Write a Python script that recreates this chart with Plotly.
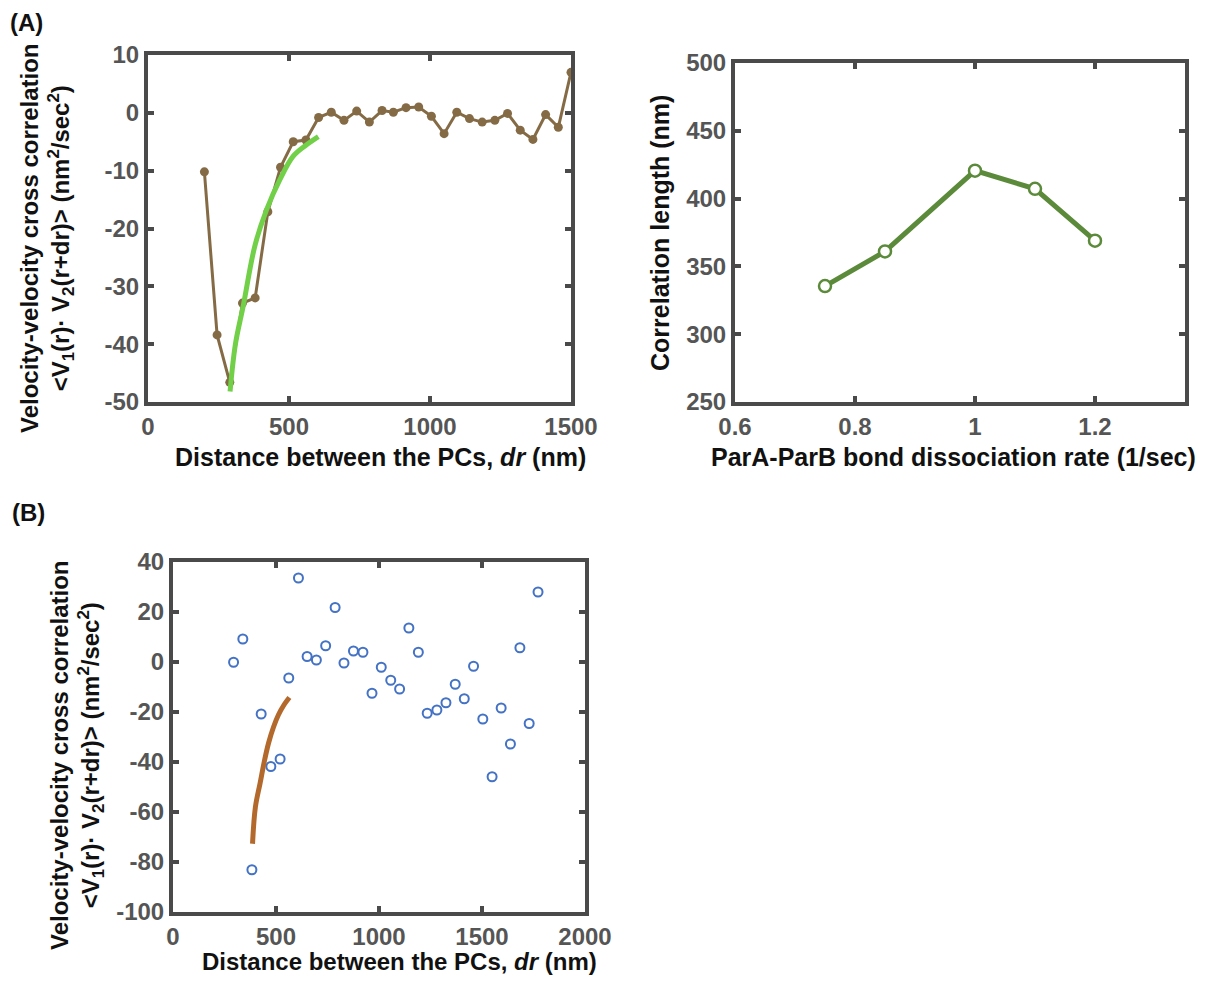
import plotly.graph_objects as go

# ---- Panel A (left): velocity-velocity cross correlation ----
a_dr = [200, 245, 290, 335, 380, 425, 470, 515, 560, 605, 650, 695, 740, 785, 830,
        870, 915, 960, 1005, 1050, 1095, 1140, 1185, 1230, 1275, 1320, 1365, 1410, 1455, 1500]
a_corr = [-10.2, -38.4, -46.6, -32.9, -32.0, -17.1, -9.4, -5.0, -4.7, -0.8, 0.1, -1.3, 0.3, -1.6, 0.4,
          0.1, 0.9, 1.0, -0.6, -3.6, 0.1, -1.0, -1.6, -1.3, -0.1, -3.0, -4.6, -0.3, -2.5, 7.0]
a_fit_dr = [291, 310, 338, 379, 421, 468, 515, 560, 604]
a_fit_corr = [-48.2, -40.0, -33.3, -23.0, -16.7, -11.5, -7.5, -5.6, -4.1]
a_xticks = [0, 500, 1000, 1500]
a_yticks = [-50, -40, -30, -20, -10, 0, 10]

# ---- Panel A (right): correlation length vs dissociation rate ----
rate = [0.75, 0.85, 1.0, 1.1, 1.2]
corr_len = [335.5, 361, 420.6, 407.2, 369]
r_xticks = [0.6, 0.8, 1.0, 1.2]
r_xlabels = ["0.6", "0.8", "1", "1.2"]
r_yticks = [250, 300, 350, 400, 450, 500]

# ---- Panel B: scatter ----
b_dr = [294, 339, 383, 428, 475, 520, 562, 609, 651, 696, 741, 787, 830, 876, 922, 966, 1011,
        1057, 1100, 1145, 1191, 1234, 1281, 1325, 1370, 1414, 1459, 1504, 1549, 1593, 1638,
        1684, 1729, 1772]
b_corr = [-0.1, 9.2, -83.1, -20.8, -41.8, -38.8, -6.4, 33.6, 2.2, 0.8, 6.5, 21.8, -0.4, 4.4, 3.9,
          -12.5, -2.1, -7.3, -10.8, 13.6, 3.9, -20.5, -19.2, -16.3, -8.9, -14.7, -1.7, -22.8,
          -45.9, -18.4, -32.8, 5.7, -24.6, 28.0]
b_fit_dr = [386, 400, 423, 444, 464, 488, 512, 540, 565]
b_fit_corr = [-72.7, -58.0, -48.4, -39.5, -32.4, -26.0, -21.1, -17.0, -14.2]
b_xticks = [0, 500, 1000, 1500, 2000]
b_yticks = [-100, -80, -60, -40, -20, 0, 20, 40]

# page offset (default body margin) compensation
OFF = 8
W, H = 1215 - 2 * OFF, 985 - 2 * OFF
FONT = "Liberation Sans, Arial, Helvetica, sans-serif"
FRAME = "#4a4a4a"
TICKC = "#555555"

def px(x):
    return (x - OFF) / W

def py(y):
    return 1 - (y - OFF) / H

fig = go.Figure()

fig.add_trace(go.Scatter(x=a_dr, y=a_corr, mode="lines+markers",
                         line=dict(color="#846b45", width=3),
                         marker=dict(color="#846b45", size=9),
                         xaxis="x", yaxis="y", showlegend=False))
fig.add_trace(go.Scatter(x=a_fit_dr, y=a_fit_corr, mode="lines",
                         line=dict(color="#72cf48", width=5, shape="spline"),
                         xaxis="x", yaxis="y", showlegend=False))

fig.add_trace(go.Scatter(x=rate, y=corr_len, mode="lines+markers",
                         line=dict(color="#5b8b3a", width=5),
                         marker=dict(color="white", size=12, line=dict(color="#5b8b3a", width=2.5)),
                         xaxis="x2", yaxis="y2", showlegend=False))

fig.add_trace(go.Scatter(x=b_dr, y=b_corr, mode="markers",
                         marker=dict(color="rgba(0,0,0,0)", size=9, line=dict(color="#4472c4", width=2)),
                         xaxis="x3", yaxis="y3", showlegend=False))
fig.add_trace(go.Scatter(x=b_fit_dr, y=b_fit_corr, mode="lines",
                         line=dict(color="#b3692c", width=5, shape="spline"),
                         xaxis="x3", yaxis="y3", showlegend=False))

def fmt(v):
    return "%g" % v

def axis(domain, rng, vals, anchor, labels=None):
    return dict(domain=domain, range=rng, anchor=anchor, automargin=False,
                tickmode="array", tickvals=vals,
                ticktext=labels if labels is not None else [fmt(v) for v in vals],
                showline=True, linewidth=4, linecolor=FRAME, mirror="allticks",
                ticks="inside", ticklen=6, tickwidth=4, tickcolor=FRAME,
                showgrid=False, zeroline=False,
                tickfont=dict(family=FONT, size=24, color=TICKC, weight="bold"))

fig.update_layout(
    width=W, height=H, paper_bgcolor="white", plot_bgcolor="white",
    margin=dict(l=0, r=0, t=0, b=0),
    xaxis=axis([px(148), px(571)], [0, 1500], a_xticks, "y"),
    yaxis=axis([py(402), py(55)], [-50, 10], a_yticks, "x"),
    xaxis2=axis([px(735), px(1185)], [0.6, 1.35], r_xticks, "y2", r_xlabels),
    yaxis2=axis([py(402), py(63)], [250, 500], r_yticks, "x2"),
    xaxis3=axis([px(173), px(585)], [0, 2000], b_xticks, "y3"),
    yaxis3=axis([py(912), py(562)], [-100, 40], b_yticks, "x3"),
)

TF = dict(family=FONT, size=25, color="#111111", weight="bold")

def ann(text, x, y, angle=0, size=25):
    f = dict(TF)
    f["size"] = size
    fig.add_annotation(text=text, x=px(x), y=py(y), xref="paper", yref="paper",
                       showarrow=False, textangle=angle, font=f,
                       xanchor="center", yanchor="middle", align="center")

ylab = ("Velocity-velocity cross correlation<br>"
        "<V<sub>1</sub>(r)· V<sub>2</sub>(r+dr)> (nm<sup>2</sup>/sec<sup>2</sup>)")
xlab = "Distance between the PCs, <i>dr</i> (nm)"

ann("(A)", 26, 22, size=24)
ann("(B)", 28, 513, size=24)
ann(ylab, 47, 238, angle=-90, size=24)
ann(xlab, 380, 457)
ann("Correlation length (nm)", 660, 233, angle=-90)
ann("ParA-ParB bond dissociation rate (1/sec)", 953, 457)
ann(ylab, 77, 755, angle=-90, size=24)
ann(xlab, 399, 961, size=24)

fig.write_html("out.html")
